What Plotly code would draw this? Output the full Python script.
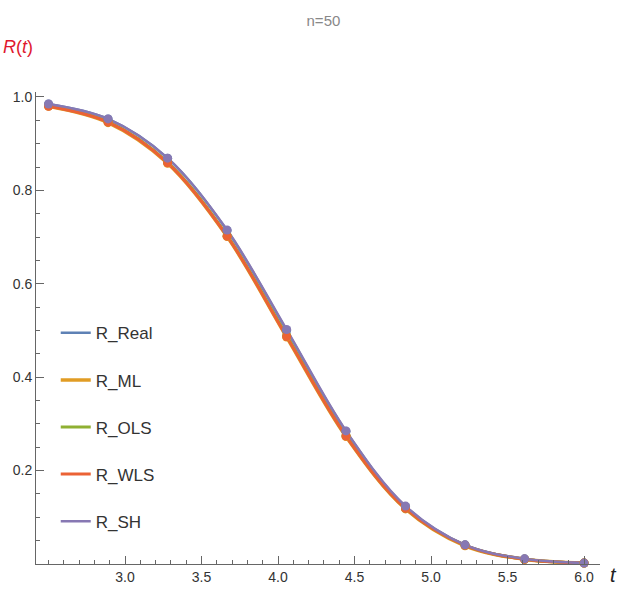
import plotly.graph_objects as go

t = [2.5, 2.889, 3.278, 3.667, 4.056, 4.444, 4.833, 5.222, 5.611, 6.0]
series_names = ["R_Real", "R_ML", "R_OLS", "R_WLS", "R_SH"]
r_real = [0.985, 0.953, 0.869, 0.714, 0.500, 0.284, 0.123, 0.041, 0.011, 0.002]
r_ml = [0.980, 0.945, 0.858, 0.701, 0.486, 0.273, 0.118, 0.039, 0.010, 0.002]
r_ols = [0.981, 0.947, 0.860, 0.703, 0.489, 0.275, 0.119, 0.040, 0.010, 0.002]
r_wls = [0.980, 0.946, 0.859, 0.702, 0.487, 0.274, 0.119, 0.040, 0.010, 0.002]
r_sh = [0.985, 0.953, 0.869, 0.715, 0.502, 0.285, 0.124, 0.041, 0.011, 0.002]
colors = ["#5E81B5", "#E19C24", "#8FB032", "#EB6235", "#8778B3"]
x_ticks = [3.0, 3.5, 4.0, 4.5, 5.0, 5.5, 6.0]
y_ticks = [0.2, 0.4, 0.6, 0.8, 1.0]
line_widths = [2.5, 3.5, 3, 3, 2.5]

FONT = "Liberation Sans Narrow, Arial Narrow, Liberation Sans, sans-serif"
fig = go.Figure()
all_series = [r_real, r_ml, r_ols, r_wls, r_sh]
for name, ys, c, lw in zip(series_names, all_series, colors, line_widths):
    fig.add_trace(go.Scatter(x=t, y=ys, mode="lines", name=name,
                             line=dict(color=c, width=lw, shape="spline"),
                             legendgroup=name, cliponaxis=False))
for name, ys, c in zip(series_names, all_series, colors):
    fig.add_trace(go.Scatter(x=t, y=ys, mode="markers", showlegend=False,
                             marker=dict(color=c, size=9), legendgroup=name,
                             cliponaxis=False))

fig.update_layout(
    width=622, height=597,
    margin=dict(l=36, r=22, t=92, b=30),
    plot_bgcolor="white", paper_bgcolor="white",
    font=dict(family=FONT, color="#444", size=14),
    showlegend=True,
    legend=dict(x=0.035, y=0.527, xanchor="left", yanchor="top",
                font=dict(size=17, color="#333", family=FONT),
                tracegroupgap=22, itemwidth=30, bgcolor="rgba(0,0,0,0)"),
    title=dict(text="n=50", x=0.52, xanchor="center", y=0.965, yanchor="middle",
               font=dict(size=15, color="#888", family=FONT)),
)
fig.update_xaxes(range=[2.418, 6.104], showline=True, linecolor="#666", linewidth=1,
                 showgrid=False, zeroline=False, ticks="inside", ticklen=8,
                 tickcolor="#666", tickvals=x_ticks,
                 ticktext=[f"{v:.1f}" for v in x_ticks],
                 tickfont=dict(size=14, color="#333"),
                 minor=dict(ticks="inside", ticklen=4, tickcolor="#666",
                            tickmode="linear", tick0=0, dtick=0.1, showgrid=False))
fig.update_yaxes(range=[0, 1.0106], showline=True, linecolor="#666", linewidth=1,
                 showgrid=False, zeroline=False, ticks="inside", ticklen=8,
                 tickcolor="#666", tickvals=y_ticks,
                 ticktext=[f"{v:.1f}" for v in y_ticks],
                 tickfont=dict(size=14, color="#333"),
                 minor=dict(ticks="inside", ticklen=4, tickcolor="#666",
                            tickmode="linear", tick0=0, dtick=0.05, showgrid=False))
fig.add_annotation(text="<i>R</i>(<i>t</i>)", x=0, y=1, xref="paper", yref="paper",
                   xanchor="center", yanchor="middle", xshift=-18, yshift=45,
                   showarrow=False, font=dict(size=18, color="#E0182E", family=FONT))
fig.add_annotation(text="<i>t</i>", x=1.0, y=0, xref="paper", yref="paper",
                   xanchor="left", yanchor="top", xshift=8, yshift=2,
                   showarrow=False, font=dict(size=20, color="#222", family=FONT))
fig.write_html("out.html")
